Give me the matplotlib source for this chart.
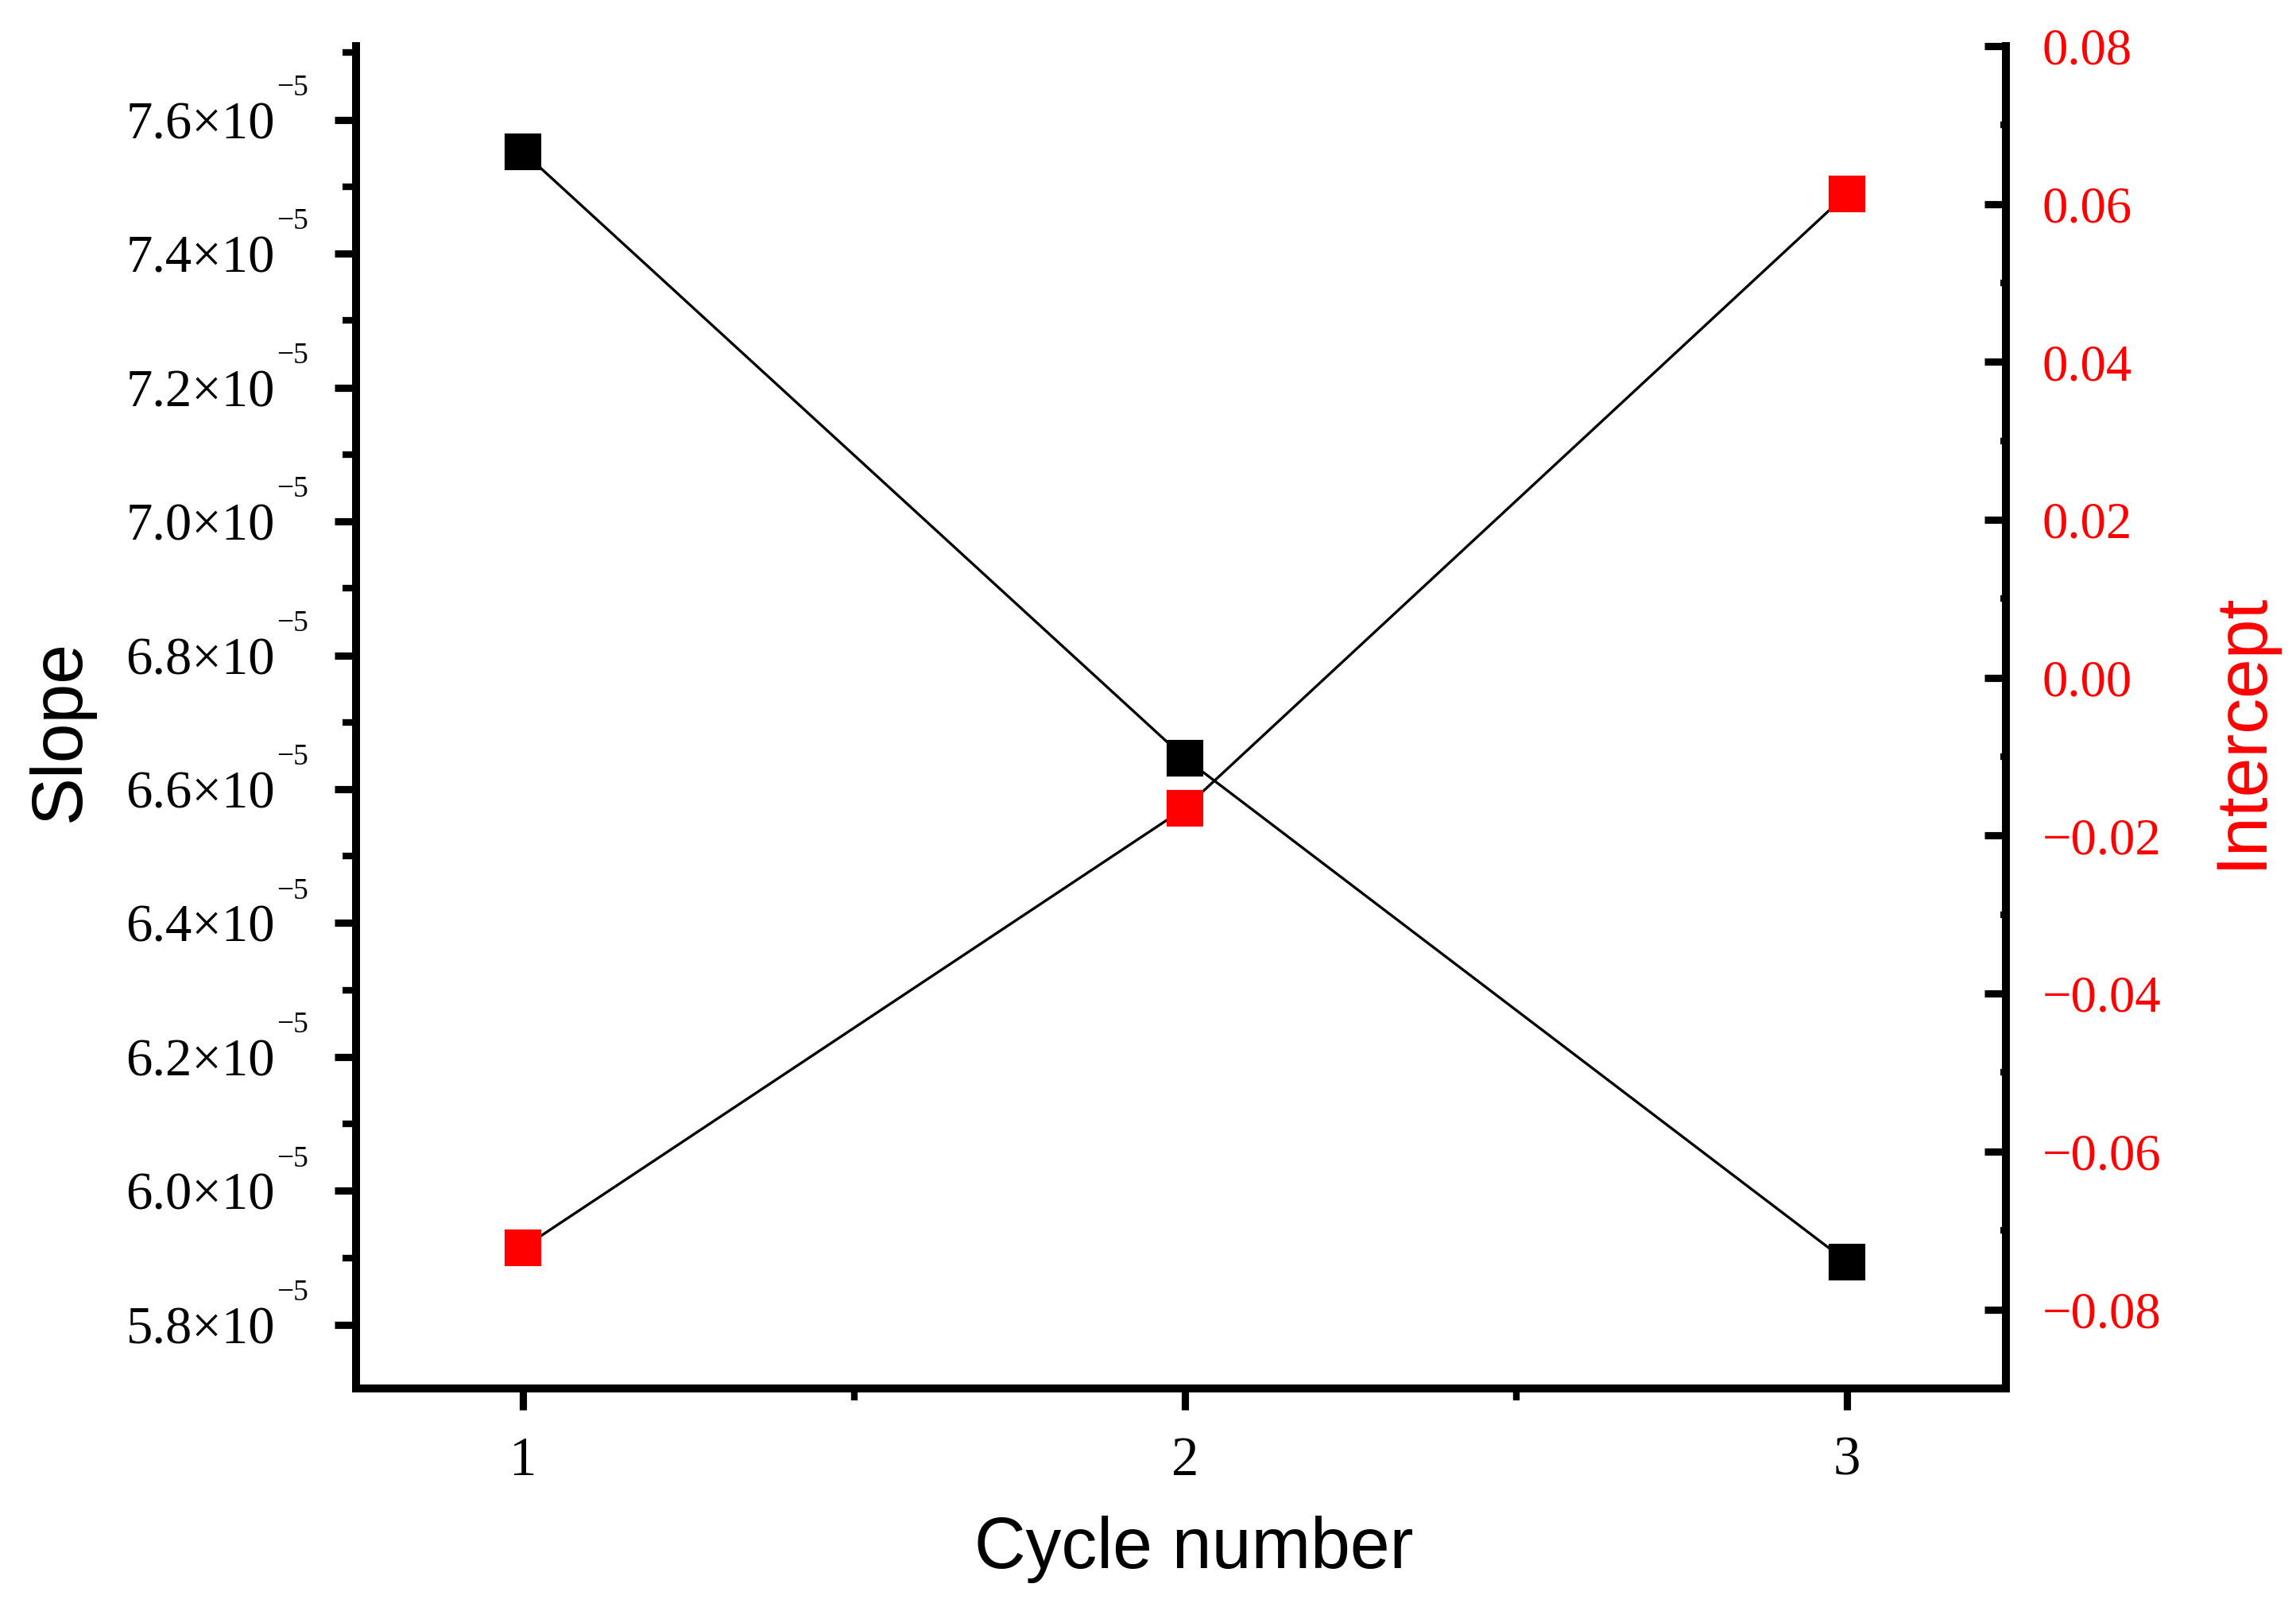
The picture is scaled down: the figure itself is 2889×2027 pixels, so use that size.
import matplotlib
matplotlib.use("Agg")
import matplotlib.pyplot as plt
from matplotlib.ticker import MultipleLocator, FuncFormatter

# data
cycles = [1, 2, 3]
slope = [7.552e-5, 6.646e-5, 5.894e-5]
intercept = [-0.0722, -0.0165, 0.0613]

slope_ticks = [5.8e-5, 6.0e-5, 6.2e-5, 6.4e-5, 6.6e-5, 6.8e-5, 7.0e-5, 7.2e-5, 7.4e-5, 7.6e-5]
intercept_ticks = [-0.08, -0.06, -0.04, -0.02, 0.00, 0.02, 0.04, 0.06, 0.08]

plt.rcParams['font.family'] = ['Liberation Serif', 'DejaVu Serif']
plt.rcParams['axes.unicode_minus'] = True

fig = plt.figure(figsize=(2889 / 300, 2027 / 300), dpi=300)
ax = fig.add_axes([0.1551, 0.1382, 0.8737 - 0.1551, 0.9714 - 0.1382])
ax2 = ax.twinx()

ax.plot(cycles, slope, color='black', lw=0.8, marker='s', ms=10,
        mfc='black', mec='black', zorder=3)
ax2.plot(cycles, intercept, color='black', lw=0.8, marker='s', ms=10,
         mfc='red', mec='red', zorder=3)

ax.set_xlim(0.748, 3.24)
ax.set_ylim(5.705e-5, 7.71e-5)
ax2.set_ylim(-0.09, 0.08)

ax.set_xticks(cycles)
ax.xaxis.set_minor_locator(MultipleLocator(0.5))
ax.set_yticks(slope_ticks)
ax.yaxis.set_minor_locator(MultipleLocator(0.1e-5))
ax2.set_yticks(intercept_ticks)
ax2.yaxis.set_minor_locator(MultipleLocator(0.01))


def slope_fmt(v, pos):
    # mantissa only, the small "-5" exponent is added separately below
    return "%.1f\u00d710" % (v * 1e5)


def icpt_fmt(v, pos):
    s = "%.2f" % v
    if s.startswith("-"):
        s = "\u2212" + s[1:]
    if s == "\u22120.00":
        s = "0.00"
    return s


ax.yaxis.set_major_formatter(FuncFormatter(slope_fmt))
ax2.yaxis.set_major_formatter(FuncFormatter(icpt_fmt))

# exponents, Origin style: small and raised
for v in slope_ticks:
    ax.annotate("\u22125", xy=(-0.0482, v), xycoords=('axes fraction', 'data'),
                xytext=(0, 9.6), textcoords='offset points',
                fontsize=9, ha='left', va='center', annotation_clip=False)

for a in (ax, ax2):
    a.spines['top'].set_visible(False)
    for sp in a.spines.values():
        sp.set_linewidth(2.4)

ax.spines['right'].set_visible(False)
ax2.spines['left'].set_visible(False)
ax2.spines['bottom'].set_visible(False)

ax.tick_params(axis='y', which='major', direction='out', length=6.5, width=2.2,
               pad=18, labelsize=16, labelcolor='black')
ax.tick_params(axis='y', which='minor', direction='out', length=4, width=2.0)
ax.tick_params(axis='x', which='major', direction='out', length=6.5, width=2.2,
               pad=8, labelsize=16.5)
ax.tick_params(axis='x', which='minor', direction='out', length=3.5, width=2.0)

ax2.tick_params(axis='y', which='major', direction='in', length=6.5, width=2.2,
                pad=11, labelsize=15.5, labelcolor='red')
ax2.tick_params(axis='y', which='minor', direction='in', length=1.8, width=2.0)

ax.set_xlabel("Cycle number", fontsize=21.5, fontfamily='Liberation Sans')
ax.set_ylabel("Slope", fontsize=21.5, fontfamily='Liberation Sans')
ax2.set_ylabel("Intercept", fontsize=21.5, fontfamily='Liberation Sans', color='red')

ax.xaxis.label.set_verticalalignment('center')
ax.xaxis.set_label_coords(0.508, -0.12)
ax.yaxis.label.set_verticalalignment('center')
ax.yaxis.set_label_coords(-0.179, 0.49)
ax2.yaxis.label.set_verticalalignment('center')
ax2.yaxis.set_label_coords(1.143, 0.49)

fig.savefig("out.png", dpi=300)
